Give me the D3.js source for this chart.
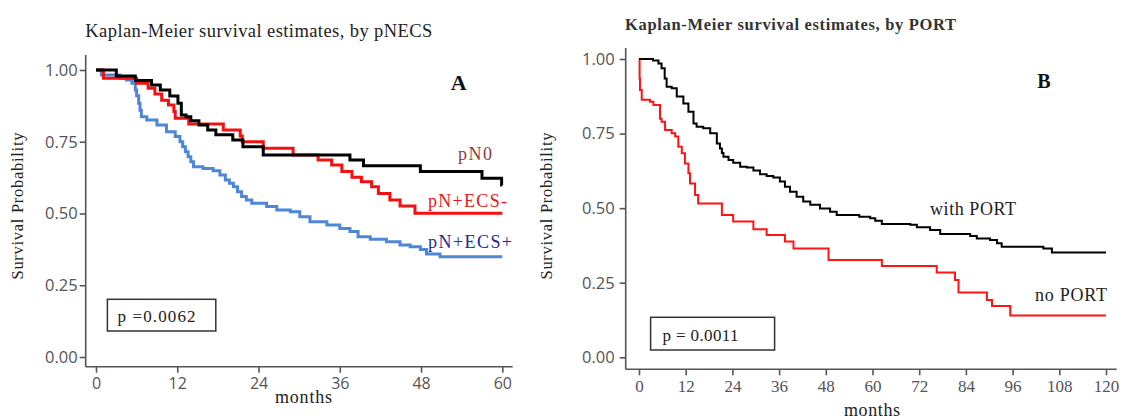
<!DOCTYPE html>
<html>
<head>
<meta charset="utf-8">
<script src="https://cdn.jsdelivr.net/npm/d3@7/dist/d3.min.js"></script>
<style>
  body { margin: 0; background: #fff; }
  .serif { font-family: "Liberation Serif", "Times New Roman", serif; }
  .sans { font-family: "Open Sans", "Liberation Sans", sans-serif; }
</style>
</head>
<body>
<div class="chart"></div>
<script>
'use strict';

// ---- data ----
var probTicks = [0, 0.25, 0.5, 0.75, 1];
var monthTicksA = [0, 12, 24, 36, 48, 60];
var monthTicksB = [0, 12, 24, 36, 48, 60, 72, 84, 96, 108, 120];

// panel A: by pNECS
var pN0Months = [0, 3.0, 5.8, 8.2, 9.5, 10.9, 12.1, 12.6, 13.3, 14.0, 15.2, 16.5, 17.7, 20.2, 21.7, 24.7, 37.5, 39.5, 47.9, 57.0, 59.9, 60];
var pN0Surv   = [1.0, .979, .963, .948, .930, .909, .884, .843, .837, .823, .808, .791, .774, .756, .733, .704, .686, .666, .646, .623, .599, .599];

var ecsNegMonths = [0, 1.1, 6.0, 7.7, 8.7, 9.7, 10.7, 11.5, 11.7, 13.7, 18.8, 21.3, 21.6, 24.7, 29.1, 32.8, 34.8, 36.3, 37.8, 39.2, 40.7, 41.7, 43.4, 44.9, 47.1, 60];
var ecsNegSurv   = [1.0, .971, .954, .936, .916, .895, .878, .855, .832, .812, .791, .770, .750, .727, .704, .686, .669, .646, .626, .611, .593, .570, .547, .526, .501, .501];

var ecsPosMonths = [0, 0.8, 3.5, 4.5, 5.3, 5.8, 6.0, 6.3, 6.5, 6.7, 7.5, 9.0, 10.4, 11.7, 12.4, 12.8, 13.2, 13.6, 14.0, 14.4, 15.8, 17.3, 18.3, 19.1, 19.7, 20.3, 20.9, 21.5, 22.2, 23.0, 25.2, 26.7, 28.7, 30.1, 31.6, 34.1, 36.0, 37.5, 38.7, 40.5, 42.9, 44.9, 46.4, 47.9, 48.8, 50.8, 60];
var ecsPosSurv   = [1.0, .983, .971, .965, .954, .930, .910, .884, .860, .837, .826, .808, .785, .768, .750, .733, .715, .698, .680, .663, .657, .649, .634, .617, .605, .593, .576, .559, .547, .536, .524, .512, .506, .489, .471, .460, .448, .437, .419, .410, .402, .390, .384, .375, .359, .349, .349];

// panel B: by PORT
var portMonths = [0, 3.6, 5.0, 5.8, 6.6, 7.1, 8.4, 9.7, 11.4, 12.7, 14.0, 14.8, 16.5, 18.3, 20.0, 20.8, 21.3, 21.7, 23.0, 24.2, 26.0, 27.7, 29.4, 31.1, 32.8, 34.5, 36.2, 37.5, 38.8, 40.5, 42.2, 44.0, 46.5, 49.1, 50.8, 56.6, 59.4, 60.7, 62.4, 69.7, 71.4, 74.8, 77.4, 85.1, 86.8, 90.2, 92.0, 93.2, 103.9, 106.1, 120];
var portSurv   = [1.0, .995, .985, .969, .935, .907, .902, .874, .851, .823, .784, .773, .768, .751, .717, .700, .685, .672, .661, .652, .639, .636, .626, .614, .608, .603, .589, .572, .555, .538, .522, .511, .499, .488, .477, .471, .466, .458, .447, .444, .436, .427, .413, .407, .398, .393, .382, .371, .365, .351, .351];

var noPortMonths = [0, 0.15, 0.26, 0.7, 2.8, 3.7, 5.4, 5.8, 6.7, 8.4, 9.3, 10.1, 11.0, 11.8, 12.7, 13.1, 14.4, 15.2, 21.3, 24.2, 29.4, 32.8, 37.5, 39.7, 48.7, 62.4, 76.5, 81.2, 82.1, 89.4, 90.7, 95.4, 120];
var noPortSurv   = [1.0, .935, .896, .863, .857, .846, .800, .790, .762, .751, .740, .706, .684, .650, .617, .583, .544, .516, .477, .455, .429, .410, .388, .365, .326, .306, .284, .259, .217, .192, .172, .140, .140];

// ---- layout ----
var W = 1124, H = 419;
var svg = d3.select(".chart").append("svg")
  .attr("width", W).attr("height", H)
  .style("display", "block");
svg.append("rect").attr("width", W).attr("height", H).attr("fill", "#fff");

var panelA = { x0: 96, x1: 502.3, y0: 357, y1: 70, axisX: 85.7, axisY: 366.7, axisTop: 55, axisRight: 512.7 };
var panelB = { x0: 639, x1: 1106, y0: 357.3, y1: 59, axisX: 625.7, axisY: 369.3, axisTop: 48, axisRight: 1116.7 };

var xA = d3.scaleLinear().domain([0, 60]).range([panelA.x0, panelA.x1]);
var yA = d3.scaleLinear().domain([0, 1]).range([panelA.y0, panelA.y1]);
var xB = d3.scaleLinear().domain([0, 120]).range([panelB.x0, panelB.x1]);
var yB = d3.scaleLinear().domain([0, 1]).range([panelB.y0, panelB.y1]);

function drawAxes(p, x, y, ticks, xFontClass, xFontSize, xPad, yPad) {
  var g = svg.append("g");
  var ya = g.append("g")
    .attr("transform", "translate(" + p.axisX + ",0)")
    .call(d3.axisLeft(y).tickValues(probTicks).tickFormat(d3.format(".2f")).tickSize(6).tickPadding(yPad));
  var xa = g.append("g")
    .attr("transform", "translate(0," + p.axisY + ")")
    .call(d3.axisBottom(x).tickValues(ticks).tickFormat(d3.format("d")).tickSize(6).tickPadding(xPad));
  g.selectAll(".domain").remove();
  g.selectAll(".tick line").attr("stroke", "#555").attr("stroke-width", 1.6);
  ya.selectAll("text").attr("class", "sans").style("font-size", "16.5px").attr("fill", "#555");
  xa.selectAll("text").attr("class", xFontClass).style("font-size", xFontSize).attr("fill", "#555");
  g.append("line").attr("x1", p.axisX).attr("x2", p.axisX).attr("y1", p.axisTop).attr("y2", p.axisY)
    .attr("stroke", "#555").attr("stroke-width", 1.6);
  g.append("line").attr("x1", p.axisX).attr("x2", p.axisRight).attr("y1", p.axisY).attr("y2", p.axisY)
    .attr("stroke", "#555").attr("stroke-width", 1.6);
}

function drawCurve(x, y, months, surv, color, width) {
  var pts = months.map(function (m, i) { return [m, surv[i]]; });
  var line = d3.line().x(function (d) { return x(d[0]); }).y(function (d) { return y(d[1]); })
    .curve(d3.curveStepAfter);
  svg.append("path").datum(pts)
    .attr("d", line)
    .attr("fill", "none")
    .attr("stroke", color)
    .attr("stroke-width", width)
    .attr("stroke-linejoin", "miter");
}

function label(txt, x, y, size, color, len, opts) {
  opts = opts || {};
  var t = svg.append("text")
    .attr("class", opts.cls || "serif")
    .attr("x", x).attr("y", y)
    .attr("fill", color)
    .style("font-size", size + "px")
    .attr("text-anchor", opts.anchor || "start")
    .text(txt);
  if (opts.bold) t.attr("font-weight", "bold");
  if (len) t.attr("textLength", len).attr("lengthAdjust", "spacing");
  if (opts.rotate) t.attr("transform", "rotate(-90," + x + "," + y + ")");
  return t;
}

// ---- panel A ----
drawAxes(panelA, xA, yA, monthTicksA, "sans", "16px", 5, 2);
drawCurve(xA, yA, ecsPosMonths, ecsPosSurv, "#4f86d6", 3);
drawCurve(xA, yA, ecsNegMonths, ecsNegSurv, "#f21010", 3);
drawCurve(xA, yA, pN0Months, pN0Surv, "#000", 3);

label("Kaplan-Meier survival estimates, by pNECS", 85.3, 37.3, 18.5, "#222", 347);
label("A", 458.7, 90, 22, "#111", null, { anchor: "middle", bold: true });
label("pN0", 458, 160, 18, "#8e3b3b", 34);
label("pN+ECS-", 428, 206.7, 18, "#e8141b", 79);
label("pN+ECS+", 428, 248, 18, "#22289a", 84);
label("Survival Probability", 23, 206, 16.5, "#222", 147, { anchor: "middle", rotate: true });
label("months", 303.5, 403, 18, "#222", 57, { anchor: "middle" });
svg.append("rect").attr("x", 107.4).attr("y", 299.3).attr("width", 108.4).attr("height", 31.7)
  .attr("fill", "none").attr("stroke", "#333").attr("stroke-width", 1.5);
label("p =0.0062", 117.5, 321.7, 17, "#222", 78);

// ---- panel B ----
drawAxes(panelB, xB, yB, monthTicksB, "serif", "17px", 5, 5);
drawCurve(xB, yB, noPortMonths, noPortSurv, "#ff1414", 2);
drawCurve(xB, yB, portMonths, portSurv, "#000", 2);

label("Kaplan-Meier survival estimates, by PORT", 625, 30, 16.5, "#333", 331, { bold: true });
label("B", 1044, 88, 20, "#111", null, { anchor: "middle", bold: true });
label("with PORT", 930, 215, 18, "#222", 86);
label("no PORT", 1035, 300.7, 18, "#222", 72);
label("Survival Probability", 552, 206, 16.5, "#222", 147, { anchor: "middle", rotate: true });
label("months", 872, 416, 18, "#222", 56, { anchor: "middle" });
svg.append("rect").attr("x", 650.6).attr("y", 317.3).attr("width", 124).attr("height", 32.7)
  .attr("fill", "none").attr("stroke", "#333").attr("stroke-width", 1.5);
label("p = 0.0011", 662.5, 340.7, 17, "#222", 76);
</script>
</body>
</html>
